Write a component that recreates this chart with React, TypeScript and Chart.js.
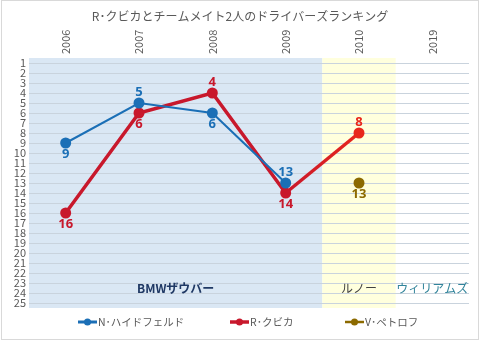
import React, { useEffect, useRef } from "react";
import { Chart, registerables } from "chart.js";

Chart.register(...registerables);

const years = ["2006", "2007", "2008", "2009", "2010", "2019"];
const heidfeld = [9, 5, 6, 13, null, null];
const kubica = [16, 6, 4, 14, 8, null];
const petrov = [null, null, null, null, 13, null];
const heidfeldLabelPos = ["below", "above", "below", "above", "", ""];
const kubicaLabelPos = ["below", "below", "above", "below", "above", ""];
const petrovLabelPos = ["", "", "", "", "below", ""];
const rankTicks = Array.from({ length: 25 }, (_, i) => i + 1);
const teams = ["BMWザウバー", "ルノー", "ウィリアムズ"];
const teamStart = [0, 4, 5];
const teamEnd = [3, 4, 5];
const teamFill = ["#DAE7F4", "#FFFFDD", "rgba(0,0,0,0)"];
const teamTextColor = ["#1F3864", "#404040", "#31849B"];
const seriesNames = ["N･ハイドフェルド", "R･クビカ", "V･ペトロフ"];
const titleText = "R･クビカとチームメイト2人のドライバーズランキング";

const FONT = "'Noto Sans CJK JP', 'Noto Sans', sans-serif";
const BLUE = "#1B6FB6";
const RED = "#C8182C";
const RED2 = "#E8261C";
const OLIVE = "#8C6A00";
const LEGEND_X = [78, 230, 345];

export default function App() {
  const ref = useRef<HTMLCanvasElement>(null);
  useEffect(() => {
    const canvas = ref.current!;
    const labelPositions = [heidfeldLabelPos, kubicaLabelPos, petrovLabelPos];

    const bandsPlugin = {
      id: "bands",
      beforeDraw(chart: any) {
        const { ctx, chartArea, scales } = chart;
        const x = scales.x;
        ctx.save();
        ctx.fillStyle = "#fff";
        ctx.fillRect(0, 0, chart.width, chart.height);
        const half = (x.getPixelForValue(1) - x.getPixelForValue(0)) / 2;
        teams.forEach((_, i) => {
          const l = x.getPixelForValue(teamStart[i]) - half;
          const r = x.getPixelForValue(teamEnd[i]) + half;
          ctx.fillStyle = teamFill[i];
          ctx.fillRect(l, chartArea.top, r - l, chartArea.bottom - chartArea.top);
        });
        ctx.restore();
      },
      afterDraw(chart: any) {
        const { ctx, scales, chartArea } = chart;
        const x = scales.x;
        const y = scales.y;
        ctx.save();
        // x labels (rotated)
        ctx.fillStyle = "#595959";
        ctx.font = "11px " + FONT;
        ctx.textAlign = "right";
        ctx.textBaseline = "middle";
        years.forEach((yr, i) => {
          ctx.save();
          ctx.translate(x.getPixelForValue(i), chartArea.top - 4);
          ctx.rotate(-Math.PI / 2);
          ctx.textAlign = "left";
          ctx.fillText(yr, 0, 0);
          ctx.restore();
        });
        // team labels
        ctx.textAlign = "center";
        ctx.textBaseline = "middle";
        teams.forEach((t, i) => {
          const cx = (x.getPixelForValue(teamStart[i]) + x.getPixelForValue(teamEnd[i])) / 2;
          ctx.fillStyle = teamTextColor[i];
          ctx.font = (i === 0 ? "bold " : "") + "12px " + FONT;
          ctx.fillText(t, cx, y.getPixelForValue(23.5));
        });
        // title
        ctx.fillStyle = "#595959";
        ctx.font = "12px " + FONT;
        ctx.fillText(titleText, chart.width / 2, 16);
        // legend
        const colors = [BLUE, RED, OLIVE];
        const widths = [3, 3.5, 2.5];
        ctx.font = "10.5px " + FONT;
        const ly = 322;
        seriesNames.forEach((n, i) => {
          const lx = LEGEND_X[i];
          ctx.strokeStyle = colors[i];
          ctx.lineWidth = widths[i];
          ctx.beginPath();
          ctx.moveTo(lx, ly);
          ctx.lineTo(lx + 19, ly);
          ctx.stroke();
          ctx.fillStyle = colors[i];
          ctx.beginPath();
          ctx.arc(lx + 9.5, ly, 3.5, 0, Math.PI * 2);
          ctx.fill();
          ctx.fillStyle = "#595959";
          ctx.textAlign = "left";
          ctx.fillText(n, lx + 20, ly);
        });
        // border
        ctx.strokeStyle = "#D9D9D9";
        ctx.lineWidth = 1;
        ctx.strokeRect(1.5, 0.5, chart.width - 3, chart.height - 2);
        ctx.restore();
      },
    };

    const dataLabelPlugin = {
      id: "dlabels",
      afterDatasetsDraw(chart: any) {
        const { ctx } = chart;
        ctx.save();
        ctx.font = "bold 13px 'Noto Sans', sans-serif";
        ctx.textAlign = "center";
        ctx.textBaseline = "middle";
        chart.data.datasets.forEach((ds: any, di: number) => {
          const meta = chart.getDatasetMeta(di);
          meta.data.forEach((pt: any, i: number) => {
            const v = ds.data[i];
            if (v === null || v === undefined) return;
            const pos = labelPositions[di][i];
            const dy = pos === "above" ? -11 : 11;
            ctx.fillStyle = ds.labelColors ? ds.labelColors[i] : ds.borderColor;
            ctx.fillText(String(v), pt.x, pt.y + dy);
          });
        });
        ctx.restore();
      },
    };

    const chart = new Chart(canvas, {
      type: "line",
      data: {
        labels: years,
        datasets: [
          {
            label: seriesNames[0],
            data: heidfeld,
            borderColor: BLUE,
            backgroundColor: BLUE,
            borderWidth: 2,
            pointRadius: 5.5,
            pointHoverRadius: 5.5,
            pointBorderWidth: 0,
          } as any,
          {
            label: seriesNames[1],
            data: kubica,
            borderColor: RED,
            backgroundColor: kubica.map((_, i) => (i === 4 ? RED2 : RED)),
            labelColors: kubica.map((_, i) => (i === 4 ? RED2 : RED)),
            borderWidth: 3.5,
            pointRadius: 5.5,
            pointHoverRadius: 5.5,
            pointBorderWidth: 0,
            segment: {
              borderColor: (c: any) => {
                if (c.p1DataIndex !== 4) return RED;
                const g = c.chart.ctx.createLinearGradient(c.p0.x, 0, c.p1.x, 0);
                g.addColorStop(0, RED);
                g.addColorStop(1, RED2);
                return g;
              },
            },
          } as any,
          {
            label: seriesNames[2],
            data: petrov,
            borderColor: OLIVE,
            backgroundColor: OLIVE,
            borderWidth: 2,
            pointRadius: 5.5,
            pointHoverRadius: 5.5,
            pointBorderWidth: 0,
          } as any,
        ],
      },
      options: {
        responsive: false,
        animation: false,
        devicePixelRatio: 1,
        layout: { padding: { left: 0, right: 11, top: 30, bottom: 33 } },
        plugins: {
          legend: { display: false },
          title: { display: false },
          tooltip: { enabled: false },
        },
        scales: {
          x: {
            position: "top",
            offset: true,
            grid: { display: false, drawTicks: false },
            border: { display: false },
            ticks: { display: false },
            afterFit(scale: any) {
              scale.height = 28;
            },
          },
          y: {
            reverse: true,
            min: 0.5,
            max: 25.5,
            afterBuildTicks(scale: any) {
              scale.ticks = rankTicks.map((v) => ({ value: v }));
            },
            afterFit(scale: any) {
              scale.width = 29;
            },
            grid: { color: "#C9D3DD", drawTicks: false, lineWidth: 1 },
            border: { display: false },
            ticks: {
              padding: 3,
              color: "#595959",
              font: { size: 11, family: FONT },
              autoSkip: false,
            },
          },
        },
      } as any,
      plugins: [bandsPlugin, dataLabelPlugin],
    });
    return () => chart.destroy();
  }, []);

  return (
    <div style={{ position: "absolute", left: 0, top: 0, width: 480, height: 341 }}>
      <canvas ref={ref} width={480} height={341} style={{ width: 480, height: 341 }} />
    </div>
  );
}
